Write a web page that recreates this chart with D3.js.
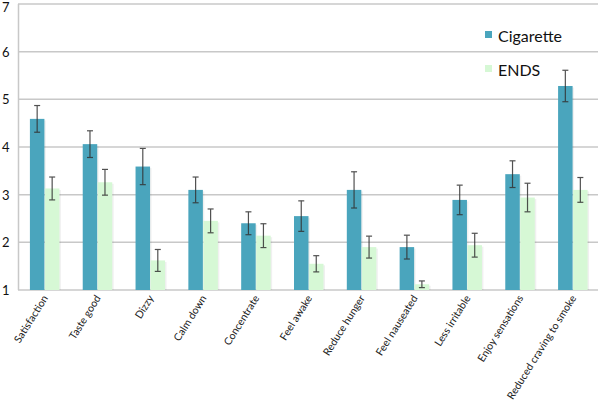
<!DOCTYPE html>
<html><head><meta charset="utf-8">
<script src="https://cdn.jsdelivr.net/npm/d3@7"></script>
<style>body{margin:0;background:#fff}svg{display:block}</style>
</head><body>
<script>
const categories = ["Satisfaction","Taste good","Dizzy","Calm down","Concentrate","Feel awake","Reduce hunger","Feel nauseated","Less irritable","Enjoy sensations","Reduced craving to smoke"];
const seriesNames = ["Cigarette","ENDS"];
const cigarette = [4.59,4.06,3.59,3.10,2.40,2.55,3.10,1.90,2.89,3.43,5.28];
const cigaretteErr = [0.28,0.28,0.38,0.27,0.24,0.32,0.38,0.25,0.31,0.28,0.33];
const ends = [3.13,3.26,1.62,2.45,2.14,1.55,1.90,1.12,1.94,2.94,3.10];
const endsErr = [0.24,0.27,0.23,0.25,0.25,0.17,0.23,0.07,0.25,0.30,0.26];
const yTicks = [1,2,3,4,5,6,7];
const colors = ["#4aa5bd","#d6f8d5"];

const W=600,H=405;
const svg=d3.select("body").append("svg").attr("width",W).attr("height",H);
const font="Lato, 'Open Sans', sans-serif";
const x=d3.scaleBand().domain(categories).range([18,599]);
const y=d3.scaleLinear().domain([1,7]).range([290,4]);

svg.append("g").selectAll("line").data(yTicks).join("line")
 .attr("x1",18).attr("x2",598).attr("y1",d=>y(d)).attr("y2",d=>y(d))
 .attr("stroke","#c8c8c8").attr("stroke-width",1.5);
svg.append("line").attr("x1",18.5).attr("x2",18.5).attr("y1",y(7)).attr("y2",y(1)).attr("stroke","#c8c8c8").attr("stroke-width",1.5);
svg.append("g").selectAll("text").data(yTicks).join("text")
 .attr("x",2).attr("y",d=>Math.max(y(d)+5,12)).attr("text-anchor","start")
 .attr("font-family",font).attr("font-size",13).attr("fill","#111").text(d=>d);

const bw=14.5;
const series=[{v:cigarette,e:cigaretteErr,off:-bw},{v:ends,e:endsErr,off:0.5}];
series.forEach((s,i)=>{
  const g=svg.append("g");
  g.selectAll("rect.sh").data(categories).join("rect")
   .attr("x",(d,j)=>x(d)+x.bandwidth()/2+s.off+1.5).attr("width",bw)
   .attr("y",(d,j)=>y(s.v[j])+1.5).attr("height",(d,j)=>y(1)-y(s.v[j])-1.5)
   .attr("fill","#000").attr("opacity",0.06);
  g.selectAll("rect.b").data(categories).join("rect")
   .attr("x",(d,j)=>x(d)+x.bandwidth()/2+s.off).attr("width",bw)
   .attr("y",(d,j)=>y(s.v[j])).attr("height",(d,j)=>y(1)-y(s.v[j]))
   .attr("fill",colors[i]);
});
series.forEach((s,i)=>{
  const g=svg.append("g").attr("stroke","#333").attr("stroke-width",1.2).attr("opacity",0.85);
  categories.forEach((d,j)=>{
    const cx=x(d)+x.bandwidth()/2+s.off+bw/2;
    const y1=y(s.v[j]+s.e[j]), y2=y(s.v[j]-s.e[j]);
    g.append("line").attr("x1",cx).attr("x2",cx).attr("y1",y1).attr("y2",y2);
    g.append("line").attr("x1",cx-3).attr("x2",cx+3).attr("y1",y1).attr("y2",y1);
    g.append("line").attr("x1",cx-3).attr("x2",cx+3).attr("y1",y2).attr("y2",y2);
  });
});
svg.append("g").selectAll("text").data(categories).join("text")
 .attr("transform",d=>`translate(${x(d)+x.bandwidth()/2+4},${298}) rotate(-58)`)
 .attr("text-anchor","end").attr("font-family",font).attr("font-size",10.5).attr("fill","#222").text(d=>d);
const lg=svg.append("g");
seriesNames.forEach((n,i)=>{
  lg.append("rect").attr("x",485).attr("y",31+i*34).attr("width",7).attr("height",7).attr("fill",colors[i]);
  lg.append("text").attr("x",498).attr("y",42+i*34).attr("font-family",font).attr("font-size",16).attr("fill","#111").text(n);
});
</script>
</body></html>
